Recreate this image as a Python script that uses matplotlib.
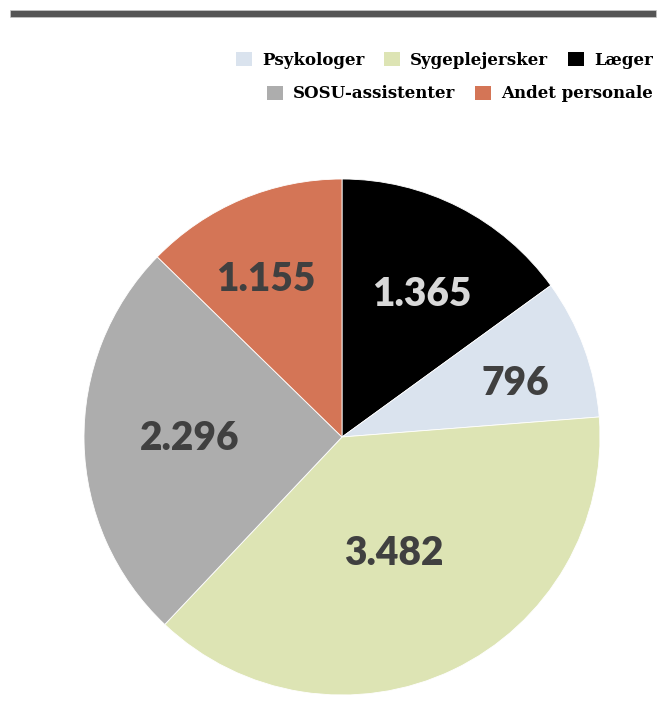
import numpy as np
import matplotlib
matplotlib.use("Agg")
import matplotlib.pyplot as plt
from matplotlib.patches import Rectangle

# data, in drawing order (clockwise from 12 o'clock)
categories = ["Læger", "Psykologer", "Sygeplejersker", "SOSU-assistenter", "Andet personale"]
values = [1365, 796, 3482, 2296, 1155]
value_labels = ["1.365", "796", "3.482", "2.296", "1.155"]
colors = ["#000000", "#DAE3EE", "#DDE4B4", "#ADADAD", "#D47556"]
label_colors = ["#D9D9D9", "#404040", "#404040", "#404040", "#404040"]
# label placement (fraction of radius, angle shift from wedge middle in degrees)
label_radius = [0.64, 0.705, 0.486, 0.589, 0.688]
label_shift = [-1.8, -2.4, -0.9, -1.6, 2.7]

legend_row1 = ["Psykologer", "Sygeplejersker", "Læger"]
legend_row2 = ["SOSU-assistenter", "Andet personale"]

fig = plt.figure(figsize=(6.57, 7.11), dpi=100)
fig.patch.set_facecolor("white")

# dark rule across the top
fig.add_artist(Rectangle((10 / 657, 1 - 16.5 / 711), 646 / 657, 7 / 711,
                         transform=fig.transFigure, facecolor="#555555",
                         edgecolor="#C8C8C8", linewidth=0.5))

ax = fig.add_axes([84 / 657, 16 / 711, 516 / 657, 516 / 711])
wedges, _ = ax.pie(values, colors=colors, startangle=90, counterclock=False,
                   radius=1, wedgeprops=dict(edgecolor="white", linewidth=0.6))
ax.set_xlim(-1, 1)
ax.set_ylim(-1, 1)
ax.set_aspect("equal")
ax.axis("off")

half_digit = 14 / 258  # half the digit height, in radius units
for w, txt, c, r, s in zip(wedges, value_labels, label_colors, label_radius, label_shift):
    mid = np.deg2rad((w.theta1 + w.theta2) / 2 + s)
    ax.text(r * np.cos(mid), r * np.sin(mid) - half_digit, txt,
            ha="center", va="baseline",
            fontsize=28, fontweight=800, color=c, family="Lato")

handle_for = dict(zip(categories, wedges))
leg_kw = dict(frameon=False, handlelength=0.95, handleheight=0.95,
              handletextpad=0.6, columnspacing=1.2, borderaxespad=0,
              borderpad=0,
              prop=dict(family="DejaVu Serif", weight="bold", size=12))
leg1 = fig.legend([handle_for[n] for n in legend_row1], legend_row1,
                  ncol=3, loc="upper right",
                  bbox_to_anchor=(653 / 657, 1 - 52 / 711), **leg_kw)
leg2 = fig.legend([handle_for[n] for n in legend_row2], legend_row2,
                  ncol=2, loc="upper right",
                  bbox_to_anchor=(653 / 657, 1 - 85.5 / 711), **leg_kw)
for leg in (leg1, leg2):
    for h in leg.legend_handles:
        h.set_edgecolor("none")

fig.savefig("out.png", dpi=100)
